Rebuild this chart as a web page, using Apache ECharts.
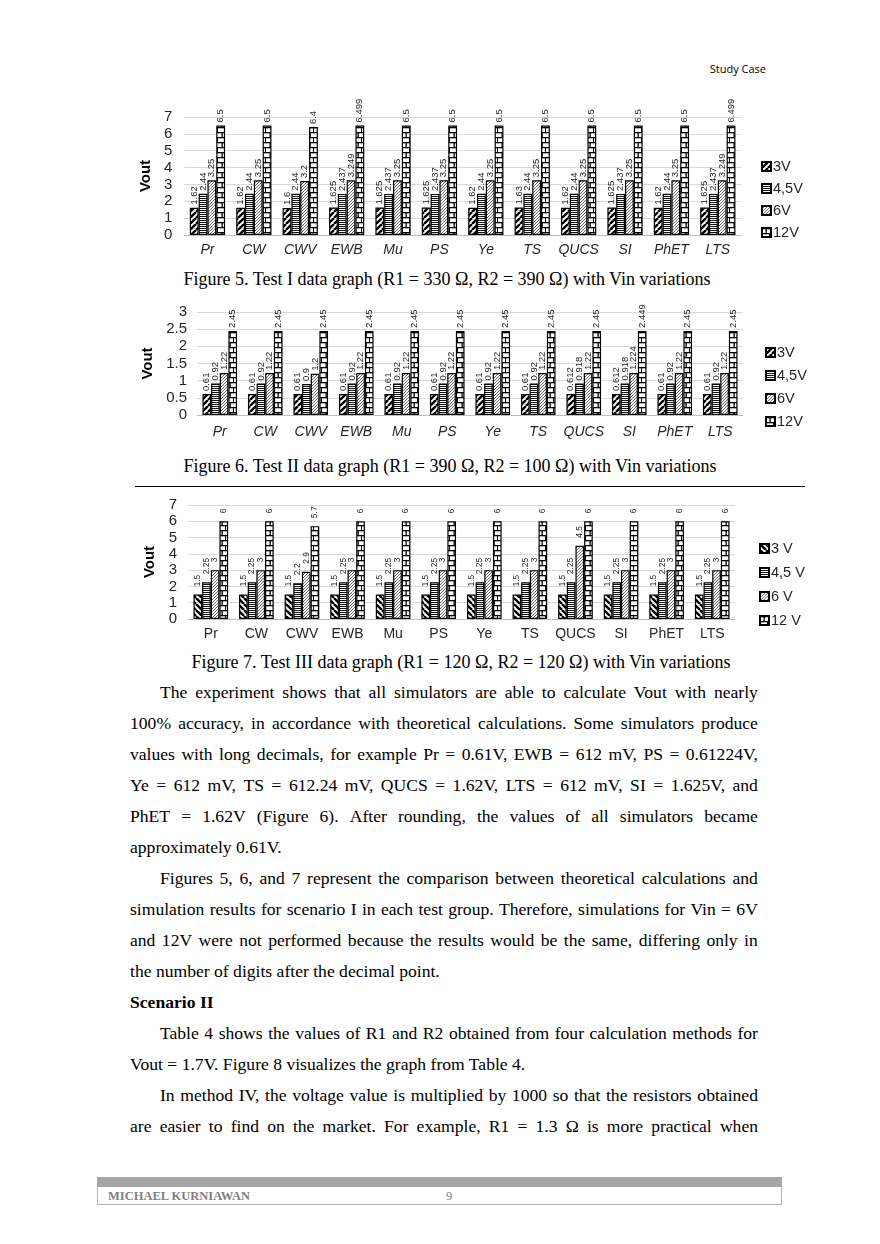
<!DOCTYPE html>
<html><head><meta charset="utf-8">
<script src="https://cdn.jsdelivr.net/npm/echarts@6/dist/echarts.min.js"></script>
<style>
html,body{margin:0;padding:0;background:#fff;}
body{width:880px;height:1244px;position:relative;overflow:hidden;font-family:"Liberation Serif","Times New Roman",serif;color:#000;}
.abs{position:absolute;}
.ln{position:absolute;left:130px;width:628px;font-size:17.6px;line-height:31px;height:31px;white-space:nowrap;}
.ln.j{display:flex;justify-content:space-between;}
.cap{position:absolute;width:800px;text-align:center;font-size:18px;line-height:20px;white-space:nowrap;}
</style></head>
<body>
<div class="abs" style="left:600px;top:61px;width:166px;text-align:right;font-family:'Open Sans','Liberation Sans',sans-serif;font-size:11px;line-height:16px;">Study Case</div>

<div id="c1" class="abs" style="left:130px;top:92px;width:680px;height:170px;"></div>
<div class="cap" style="left:47px;top:269px;">Figure 5. Test I data graph (R1 = 330 Ω, R2 = 390 Ω) with Vin variations</div>

<div id="c2" class="abs" style="left:130px;top:292px;width:680px;height:150px;"></div>
<div class="cap" style="left:50px;top:456px;">Figure 6. Test II data graph (R1 = 390 Ω, R2 = 100 Ω) with Vin variations</div>

<div class="abs" style="left:135px;top:486px;width:670px;height:0;border-top:1.3px solid #000;"></div>
<div id="c3" class="abs" style="left:130px;top:490px;width:680px;height:152px;"></div>
<div class="cap" style="left:61px;top:652px;">Figure 7. Test III data graph (R1 = 120 Ω, R2 = 120 Ω) with Vin variations</div>

<div id="body"></div>

<div class="abs" style="left:97px;top:1177px;width:683px;height:27px;border:1px solid #b5b5b5;border-top:none;"></div>
<div class="abs" style="left:97px;top:1177px;width:685px;height:10px;background:#a6a6a6;"></div>
<div class="abs" style="left:108px;top:1188px;font-family:'Liberation Serif',serif;font-weight:bold;font-size:12.5px;line-height:16px;color:#7f7f7f;">MICHAEL KURNIAWAN</div>
<div class="abs" style="left:446px;top:1188px;font-family:'Liberation Serif',serif;font-size:12.5px;line-height:16px;color:#7f7f7f;">9</div>

<script>
// ---------- data ----------
const categories = ['Pr','CW','CWV','EWB','Mu','PS','Ye','TS','QUCS','SI','PhET','LTS'];

const legend1 = ['3V','4,5V','6V','12V'];
const test1_3V  = [1.62,1.62,1.6,1.625,1.625,1.625,1.62,1.63,1.62,1.625,1.62,1.625];
const test1_45V = [2.44,2.44,2.44,2.437,2.437,2.437,2.44,2.44,2.44,2.437,2.44,2.437];
const test1_6V  = [3.25,3.25,3.2,3.249,3.25,3.25,3.25,3.25,3.25,3.25,3.25,3.249];
const test1_12V = [6.5,6.5,6.4,6.499,6.5,6.5,6.5,6.5,6.5,6.5,6.5,6.499];

const legend2 = ['3V','4,5V','6V','12V'];
const test2_3V  = [0.61,0.61,0.61,0.61,0.61,0.61,0.61,0.61,0.612,0.612,0.61,0.61];
const test2_45V = [0.92,0.92,0.9,0.92,0.92,0.92,0.92,0.92,0.918,0.918,0.92,0.92];
const test2_6V  = [1.22,1.22,1.2,1.22,1.22,1.22,1.22,1.22,1.22,1.224,1.22,1.22];
const test2_12V = [2.45,2.45,2.45,2.45,2.45,2.45,2.45,2.45,2.45,2.449,2.45,2.45];

const legend3 = ['3 V','4,5 V','6 V','12 V'];
const test3_3V  = [1.5,1.5,1.5,1.5,1.5,1.5,1.5,1.5,1.5,1.5,1.5,1.5];
const test3_45V = [2.25,2.25,2.2,2.25,2.25,2.25,2.25,2.25,2.25,2.25,2.25,2.25];
const test3_6V  = [3,3,2.9,3,3,3,3,3,4.5,3,3,3];
const test3_12V = [6,6,5.7,6,6,6,6,6,6,6,6,6];

const yAxis1 = {min:0, max:7, interval:1};
const yAxis2 = {min:0, max:3, interval:0.5};
const yAxis3 = {min:0, max:7, interval:1};

// ---------- body text ----------
const bodyLines = [
 {y:692, t:'The experiment shows that all simulators are able to calculate Vout with nearly', ind:1, j:1},
 {y:723, t:'100% accuracy, in accordance with theoretical calculations. Some simulators produce', j:1},
 {y:754, t:'values with long decimals, for example Pr = 0.61V, EWB = 612 mV, PS = 0.61224V,', j:1},
 {y:785, t:'Ye = 612 mV, TS = 612.24 mV, QUCS = 1.62V, LTS = 612 mV, SI = 1.625V, and', j:1},
 {y:816, t:'PhET = 1.62V (Figure 6). After rounding, the values of all simulators became', j:1},
 {y:847, t:'approximately 0.61V.'},
 {y:878, t:'Figures 5, 6, and 7 represent the comparison between theoretical calculations and', ind:1, j:1},
 {y:909, t:'simulation results for scenario I in each test group. Therefore, simulations for Vin = 6V', j:1},
 {y:940, t:'and 12V were not performed because the results would be the same, differing only in', j:1},
 {y:971, t:'the number of digits after the decimal point.'},
 {y:1002, t:'Scenario II', b:1},
 {y:1033, t:'Table 4 shows the values of R1 and R2 obtained from four calculation methods for', ind:1, j:1},
 {y:1064, t:'Vout = 1.7V. Figure 8 visualizes the graph from Table 4.'},
 {y:1095, t:'In method IV, the voltage value is multiplied by 1000 so that the resistors obtained', ind:1, j:1},
 {y:1126, t:'are easier to find on the market. For example, R1 = 1.3 Ω is more practical when', j:1}
];
const bodyEl = document.getElementById('body');
bodyLines.forEach(l => {
  const d = document.createElement('div');
  d.className = 'ln' + (l.j ? ' j' : '');
  d.style.top = (l.y - 15.5) + 'px';
  if (l.ind) { d.style.left = '160px'; d.style.width = '598px'; }
  if (l.b) d.style.fontWeight = 'bold';
  if (l.j) {
    l.t.split(' ').forEach(w => { const s = document.createElement('span'); s.textContent = w; d.appendChild(s); });
  } else d.textContent = l.t;
  bodyEl.appendChild(d);
});

// ---------- patterns ----------
function mk(w,h,fn){const c=document.createElement('canvas');c.width=w;c.height=h;const g=c.getContext('2d');g.fillStyle='#fff';g.fillRect(0,0,w,h);fn(g);return c;}
const patStripe = mk(6,6,g=>{g.strokeStyle='#000';g.lineWidth=2.4;g.beginPath();for(let k=-6;k<=12;k+=6){g.moveTo(k,6);g.lineTo(k+6,0);}g.stroke();});
const patStripeB = mk(6,6,g=>{g.strokeStyle='#000';g.lineWidth=2.4;g.beginPath();for(let k=-6;k<=12;k+=6){g.moveTo(k,0);g.lineTo(k+6,6);}g.stroke();});
const patHoriz = mk(4,2,g=>{g.fillStyle='#111';g.fillRect(0,0,4,1);});
const patThin = mk(3,3,g=>{g.strokeStyle='#444';g.lineWidth=0.8;g.beginPath();for(let k=-3;k<=6;k+=3){g.moveTo(k,3);g.lineTo(k+3,0);}g.stroke();});
const patBrick = mk(8,10,g=>{g.fillStyle='#000';g.fillRect(0,0,8,1.3);g.fillRect(0,5,8,1.3);g.fillRect(3.5,0,1.3,5);g.fillRect(7,5,1.3,5);});

function ser(name, data, pat, dist, fs){
  return {name, type:'bar', data, barGap:'0%', barCategoryGap:'24%', animation:false,
    itemStyle:{color:{image:pat, repeat:'repeat'}, borderColor:'#000', borderWidth:1.2},
    label:{show:true, position:'top', rotate:90, align:'left', verticalAlign:'middle', distance:dist,
      fontSize:fs, color:'#262626', fontFamily:'Liberation Sans, Arial, sans-serif'},
    emphasis:{disabled:true}};
}

function build(id, cfg){
  const ch = echarts.init(document.getElementById(id), null, {renderer:'canvas'});
  ch.setOption({
    animation:false,
    grid:cfg.grid,
    legend:{orient:'vertical', left:cfg.legLeft, top:cfg.legTop, itemGap:cfg.legGap, itemWidth:9, itemHeight:9, icon:'rect',
      textStyle:{fontSize:14.5, color:'#262626', fontFamily:'Liberation Sans, Arial, sans-serif', padding:[0,0,0,-3]},
      data:cfg.legend, selectedMode:false},
    xAxis:{type:'category', data:categories, axisTick:{show:false},
      axisLine:{lineStyle:{color:'#bfbfbf'}},
      axisLabel:{fontSize:14, color:'#262626', fontStyle:cfg.italic?'italic':'normal', margin:cfg.xMargin, fontFamily:'Liberation Sans, Arial, sans-serif', interval:0}},
    yAxis:{type:'value', min:cfg.y.min, max:cfg.y.max, interval:cfg.y.interval,
      axisLine:{show:false}, axisTick:{show:false},
      splitLine:{lineStyle:{color:'#d9d9d9'}},
      axisLabel:{fontSize:15, color:'#262626', margin:cfg.yMargin, fontFamily:'Liberation Sans, Arial, sans-serif'},
      name:'Vout', nameLocation:'middle', nameGap:cfg.nameGap,
      nameTextStyle:{fontSize:15, fontWeight:'bold', color:'#000', fontFamily:'Liberation Sans, Arial, sans-serif'}},
    series:[
      ser(cfg.legend[0], cfg.d[0], cfg.p[0], cfg.dist, cfg.fs),
      ser(cfg.legend[1], cfg.d[1], cfg.p[1], cfg.dist, cfg.fs),
      ser(cfg.legend[2], cfg.d[2], cfg.p[2], cfg.dist, cfg.fs),
      ser(cfg.legend[3], cfg.d[3], cfg.p[3], cfg.dist, cfg.fs)
    ]
  });
}

build('c1', {grid:{left:54,right:69,top:25,bottom:27}, legLeft:626, legTop:62, legGap:7, legend:legend1,
  italic:true, xMargin:8, yMargin:12, nameGap:25, y:yAxis1, dist:3, fs:9.5,
  d:[test1_3V,test1_45V,test1_6V,test1_12V], p:[patStripe,patHoriz,patThin,patBrick]});
build('c2', {grid:{left:67,right:67,top:20,bottom:27}, legLeft:630, legTop:48, legGap:8, legend:legend2,
  italic:true, xMargin:10, yMargin:10, nameGap:30, y:yAxis2, dist:3, fs:9.5,
  d:[test2_3V,test2_45V,test2_6V,test2_12V], p:[patStripe,patHoriz,patThin,patBrick]});
build('c3', {grid:{left:58,right:75,top:15,bottom:23}, legLeft:624, legTop:46, legGap:9, legend:legend3,
  italic:false, xMargin:8, yMargin:11, nameGap:18, y:yAxis3, dist:8, fs:8.5,
  d:[test3_3V,test3_45V,test3_6V,test3_12V], p:[patStripeB,patHoriz,patThin,patBrick]});
</script>
</body></html>
